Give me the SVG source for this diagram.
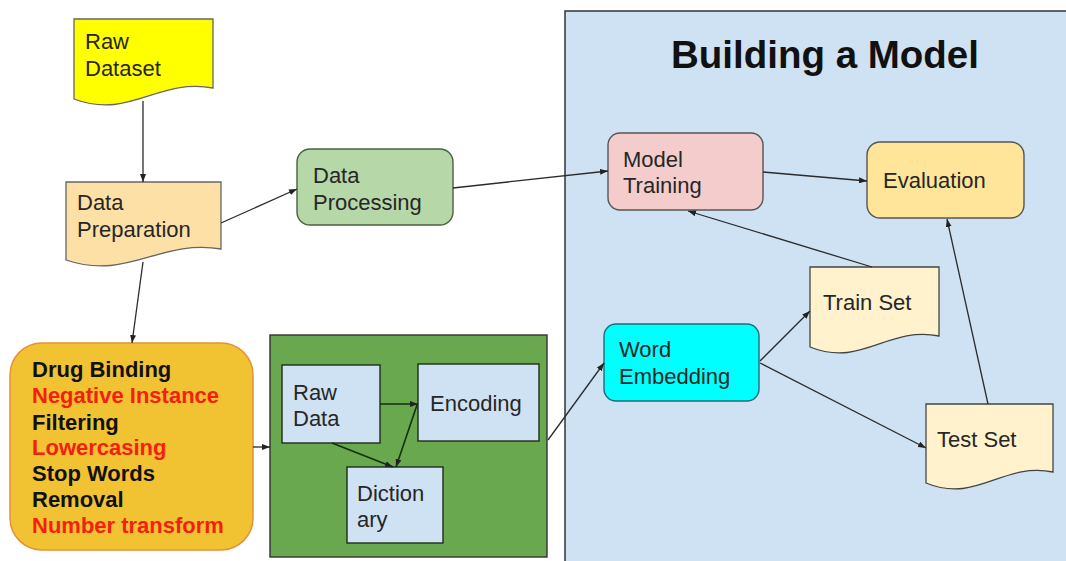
<svg xmlns="http://www.w3.org/2000/svg" width="1066" height="561" viewBox="0 0 1066 561">
<defs>
<marker id="arr" markerUnits="userSpaceOnUse" markerWidth="8" markerHeight="6" refX="8" refY="3" orient="auto">
<path d="M0,0 L8,3 L0,6 Z" fill="#222"/>
</marker>
<style>
text{font-family:"Liberation Sans",Arial,sans-serif;font-size:22px;fill:#262626}
.b{font-weight:bold;fill:#111}
.r{font-weight:bold;fill:#f4200e}
.c{fill:none;stroke:#2b2b2b;stroke-width:1.3;marker-end:url(#arr)}
.ci{fill:none;stroke:#12300c;stroke-width:1.6;marker-end:url(#arr)}
.inner{fill:#cfe2f3;stroke:#1f2d1a;stroke-width:1.4}
</style>
</defs>
<rect width="1066" height="561" fill="#ffffff"/>

<g id="panel-model">
<rect x="565" y="11" width="510" height="560" fill="#cfe2f3" stroke="#333" stroke-width="1.5"/>
<text x="825" y="68" text-anchor="middle" class="b" style="font-size:38.5px">Building a Model</text>
</g>

<g id="raw-dataset">
<path d="M74,19 H213 V88 C157,78 130,120 74,99 Z" fill="#ffff00" stroke="#666" stroke-width="1.3"/>
<text x="85" y="49">Raw</text>
<text x="85" y="76">Dataset</text>
</g>

<g id="data-preparation">
<path d="M66,182 H221 V249 C159,239 128,281 66,260 Z" fill="#fde0a6" stroke="#666" stroke-width="1.3"/>
<text x="77" y="210">Data</text>
<text x="77" y="237">Preparation</text>
</g>

<g id="data-processing">
<rect x="297" y="149" width="156" height="76" rx="13" fill="#b6d7a8" stroke="#4b6140" stroke-width="1.4"/>
<text x="313" y="183">Data</text>
<text x="313" y="210">Processing</text>
</g>

<g id="preprocessing-steps">
<rect x="10" y="343" width="243" height="207" rx="32" fill="#f1c232" stroke="#e69138" stroke-width="1.5"/>
<text x="32" y="377" class="b">Drug Binding</text>
<text x="32" y="403" class="r">Negative Instance</text>
<text x="32" y="430" class="b">Filtering</text>
<text x="32" y="455" class="r">Lowercasing</text>
<text x="32" y="481" class="b">Stop Words</text>
<text x="32" y="507" class="b">Removal</text>
<text x="32" y="533" class="r">Number transform</text>
</g>

<g id="encoding-panel">
<rect x="270" y="335" width="277" height="222" fill="#6aa84f" stroke="#333" stroke-width="1.4"/>
</g>

<g id="raw-data">
<rect x="282" y="365" width="98" height="78" class="inner"/>
<text x="293" y="400">Raw</text>
<text x="293" y="426">Data</text>
</g>

<g id="encoding">
<rect x="418" y="364" width="121" height="77" class="inner"/>
<text x="430" y="411">Encoding</text>
</g>

<g id="dictionary">
<rect x="347" y="467" width="96" height="76" class="inner"/>
<text x="357" y="501">Diction</text>
<text x="357" y="527">ary</text>
</g>

<g id="model-training">
<rect x="608" y="133" width="155" height="77" rx="12" fill="#f4cccc" stroke="#555" stroke-width="1.4"/>
<text x="623" y="167">Model</text>
<text x="623" y="193">Training</text>
</g>

<g id="evaluation">
<rect x="867" y="142" width="157" height="76" rx="13" fill="#ffe599" stroke="#555" stroke-width="1.4"/>
<text x="883" y="188">Evaluation</text>
</g>

<g id="word-embedding">
<rect x="604" y="324" width="155" height="77" rx="12" fill="#00ffff" stroke="#1b6f78" stroke-width="1.4"/>
<text x="619" y="357">Word</text>
<text x="619" y="384">Embedding</text>
</g>

<g id="train-set">
<path d="M810,267 H939 V336 C887,326 862,368 810,347 Z" fill="#fff2cc" stroke="#444" stroke-width="1.3"/>
<text x="823" y="310">Train Set</text>
</g>

<g id="test-set">
<path d="M926,404 H1053 V472 C1002,462 977,504 926,483 Z" fill="#fff2cc" stroke="#444" stroke-width="1.3"/>
<text x="937" y="447">Test Set</text>
</g>

<g id="connectors">
<path class="c" d="M143,101 L143,182"/>
<path class="c" d="M221,223 L297,189"/>
<path class="c" d="M143,262 L132,343"/>
<path class="c" d="M253,447 L270,447"/>
<path class="c" d="M548,440 L604,363"/>
<path class="c" d="M453,188 L608,171"/>
<path class="c" d="M763,172 L867,181"/>
<path class="c" d="M872,267 L688,211"/>
<path class="c" d="M988,404 L947,219"/>
<path class="c" d="M760,361 L810,311"/>
<path class="c" d="M760,363 L926,448"/>
<path class="ci" d="M380,404 L418,404"/>
<path class="ci" d="M332,443 L393,467"/>
<path class="ci" d="M417,405 L396,467"/>
</g>
</svg>
